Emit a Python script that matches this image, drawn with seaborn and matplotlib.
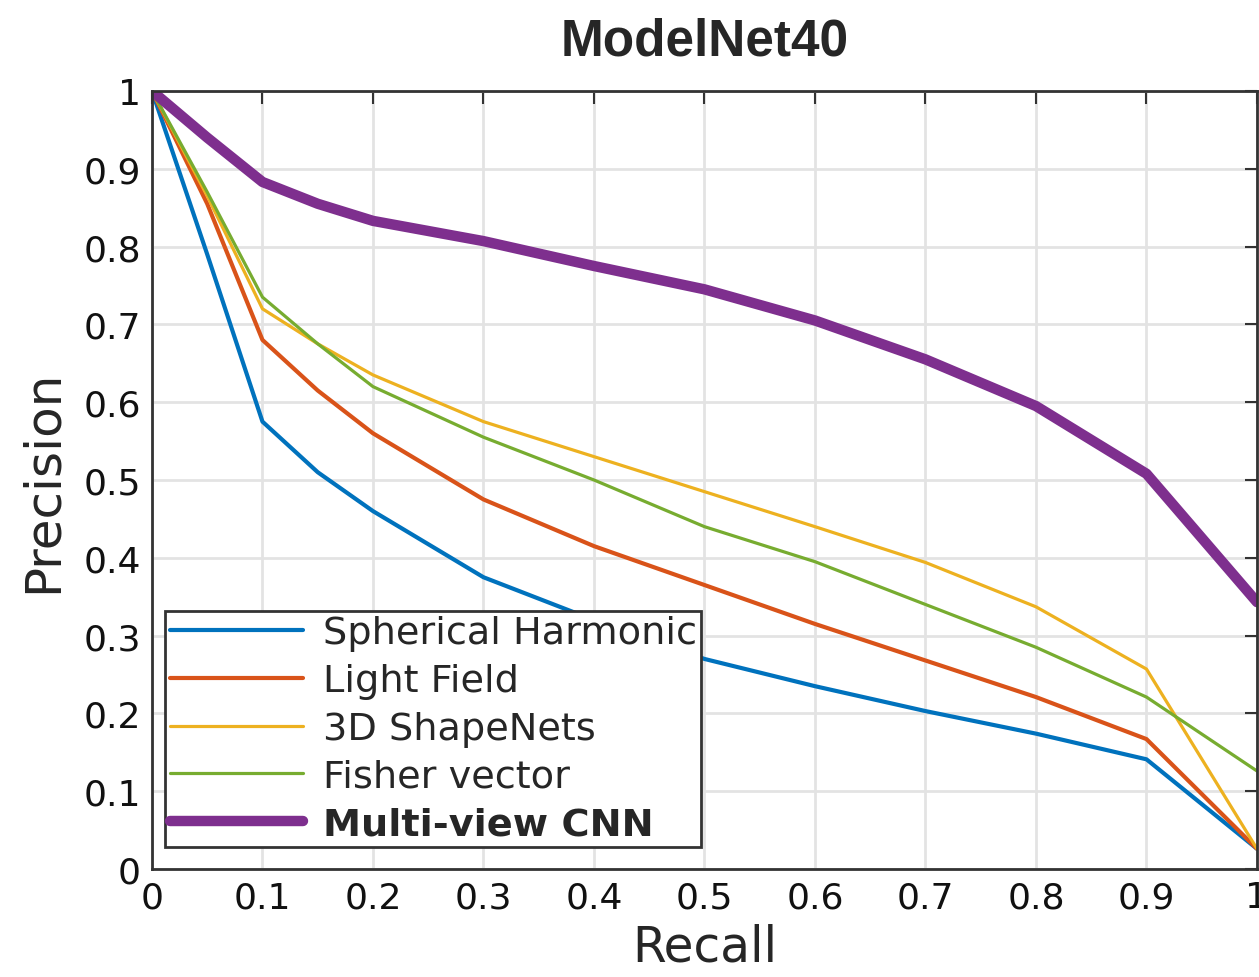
import matplotlib
matplotlib.use("Agg")
import matplotlib.pyplot as plt
import seaborn as sns
import pandas as pd

recall = [0.0, 0.05, 0.1, 0.15, 0.2, 0.3, 0.4, 0.5, 0.6, 0.7, 0.8, 0.9, 1.0]
spherical_harmonic = [1.0, 0.79, 0.575, 0.51, 0.46, 0.375, 0.32, 0.27, 0.235, 0.203, 0.174, 0.141, 0.026]
light_field = [1.0, 0.855, 0.68, 0.615, 0.56, 0.475, 0.415, 0.365, 0.315, 0.268, 0.221, 0.167, 0.026]
shapenets = [1.0, 0.865, 0.72, 0.675, 0.635, 0.575, 0.53, 0.485, 0.44, 0.394, 0.337, 0.257, 0.026]
fisher_vector = [1.0, 0.87, 0.735, 0.675, 0.62, 0.555, 0.5, 0.44, 0.395, 0.34, 0.285, 0.221, 0.126]
multiview_cnn = [1.0, 0.94, 0.883, 0.855, 0.833, 0.807, 0.775, 0.745, 0.705, 0.655, 0.595, 0.508, 0.343]

series_names = ["Spherical Harmonic", "Light Field", "3D ShapeNets", "Fisher vector", "Multi-view CNN"]
series_values = [spherical_harmonic, light_field, shapenets, fisher_vector, multiview_cnn]
colors = ["#0072BD", "#D95319", "#EDB120", "#77AC30", "#7E2F8E"]
widths = [3.0, 3.0, 2.3, 2.3, 7.5]

x_ticks = [0, 0.1, 0.2, 0.3, 0.4, 0.5, 0.6, 0.7, 0.8, 0.9, 1.0]
tick_labels = ["0", "0.1", "0.2", "0.3", "0.4", "0.5", "0.6", "0.7", "0.8", "0.9", "1"]

rows = []
for name, vals in zip(series_names, series_values):
    for r, p in zip(recall, vals):
        rows.append({"Recall": r, "Precision": p, "Method": name})
df = pd.DataFrame(rows)

sns.set_style("whitegrid")
plt.rcParams["font.family"] = ["DejaVu Sans"]

fig = plt.figure(figsize=(12.59, 9.78), dpi=100)
ax = fig.add_axes([0.1207, 0.1104, 0.8777, 0.7956])

for name, c, lw in zip(series_names, colors, widths):
    sns.lineplot(data=df[df["Method"] == name], x="Recall", y="Precision",
                 color=c, linewidth=lw, label=name, ax=ax, estimator=None,
                 sort=False, solid_capstyle="round")

ax.set_xlim(0, 1)
ax.set_ylim(0, 1)
ax.set_xticks(x_ticks)
ax.set_xticklabels(tick_labels)
ax.set_yticks(x_ticks)
ax.set_yticklabels(tick_labels)
ax.grid(True, color="#e3e3e3", linewidth=2)
ax.tick_params(direction="in", top=True, right=True, length=9, width=1.5,
               color="#333333", labelsize=26, pad=8, labelcolor="#111111")
for s in ax.spines.values():
    s.set_color("#333333")
    s.set_linewidth(2)
ax.set_xlabel("Recall", fontsize=35, labelpad=6)
ax.set_ylabel("Precision", fontsize=36, labelpad=12)
ax.set_title("ModelNet40", fontsize=37, fontweight="bold",
             family="Liberation Sans", pad=26)

leg = ax.legend(loc="lower left", bbox_to_anchor=(0.012, 0.028), fontsize=27.5,
                frameon=True, framealpha=1, facecolor="white", edgecolor="#333333",
                fancybox=False, handlelength=3.5, handletextpad=0.5,
                labelspacing=0.31, borderpad=0.12, borderaxespad=0)
leg.get_frame().set_linewidth(2)
leg.get_texts()[-1].set_fontweight("bold")

fig.savefig("out.png", dpi=100)
